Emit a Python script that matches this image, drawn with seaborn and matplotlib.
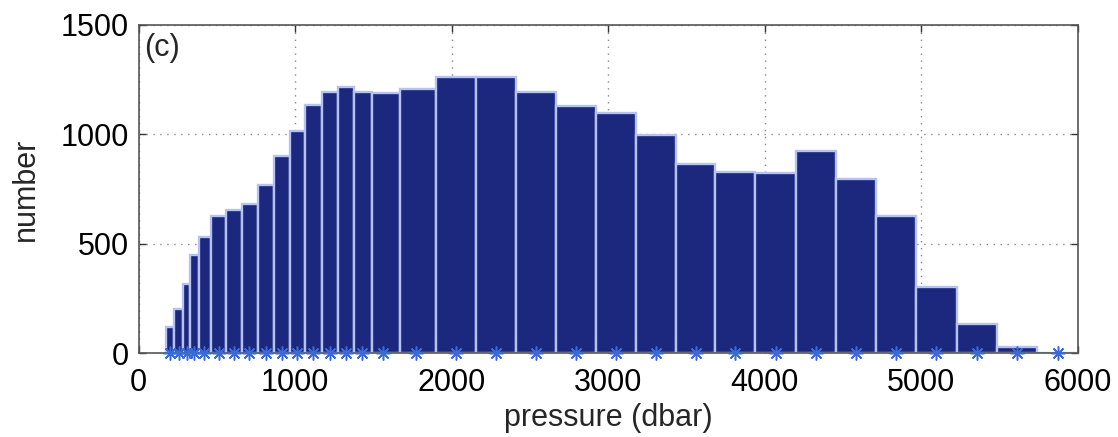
import numpy as np
import pandas as pd
import matplotlib
matplotlib.use("Agg")
import matplotlib.pyplot as plt
import seaborn as sns

# Bin centres (dbar) and counts
bin_centers = [201, 255, 306, 354, 418, 511, 610, 708, 814, 913, 1015, 1117,
               1222, 1324, 1426, 1560, 1774, 2030, 2282, 2537, 2793, 3048,
               3303, 3559, 3811, 4069, 4328, 4584, 4840, 5097, 5355, 5614, 5871]
counts = [120, 200, 314, 448, 532, 626, 654, 681, 768, 902, 1013, 1134,
          1193, 1214, 1195, 1190, 1206, 1260, 1260, 1195, 1130, 1097,
          997, 862, 829, 825, 925, 796, 628, 302, 132, 30, 0]
x_ticks = [0, 1000, 2000, 3000, 4000, 5000, 6000]
y_ticks = [0, 500, 1000, 1500]
panel_label = "(c)"
x_label = "pressure (dbar)"
y_label = "number"

sns.set_style("white")
plt.rcParams["font.family"] = ["Liberation Sans", "DejaVu Sans"]
FS = 22

c = np.asarray(bin_centers, dtype=float)
mid = (c[:-1] + c[1:]) / 2
edges = [float(c[0] - (mid[0] - c[0]))] + [float(m) for m in mid] + [float(c[-1] + (c[-1] - mid[-1]))]
df = pd.DataFrame({"pressure": c, "count": counts})

fig = plt.figure(figsize=(11.18, 4.37), dpi=100)
ax = fig.add_axes([0.124, 0.192, 0.840, 0.751])

sns.histplot(data=df, x="pressure", weights="count", bins=edges, ax=ax, stat="count",
             color="#1b287d", edgecolor="#b6c2f2", linewidth=1.7, alpha=1.0)

ax.plot(c, np.zeros_like(c), linestyle="none", marker=(8, 2, 0), markersize=10,
        markeredgewidth=1.1, color="#3a6ad8", clip_on=False, zorder=5)

ax.set_xlim(0, 6000)
ax.set_ylim(0, 1500)
ax.set_xticks(x_ticks)
ax.set_yticks(y_ticks)
ax.set_xlabel(x_label, fontsize=FS, labelpad=3)
ax.set_ylabel(y_label, fontsize=FS, labelpad=14)
ax.tick_params(axis="both", which="both", direction="in", length=5, width=1,
               labelsize=FS, top=True, right=True, bottom=True, left=True,
               colors="#333333", labelcolor="black")
ax.tick_params(axis="x", pad=11)
ax.tick_params(axis="y", pad=7)
ax.grid(True, linestyle=(0, (1, 4)), color="#888888", linewidth=1.0)
for g in ax.get_xgridlines() + ax.get_ygridlines():
    g.set_zorder(0.5)
for s in ax.spines.values():
    s.set_visible(True)
    s.set_color("#555555")
    s.set_linewidth(1.2)

ax.text(0.006, 0.975, panel_label, transform=ax.transAxes, ha="left", va="top",
        fontsize=FS)

fig.savefig("out.png", dpi=100)
